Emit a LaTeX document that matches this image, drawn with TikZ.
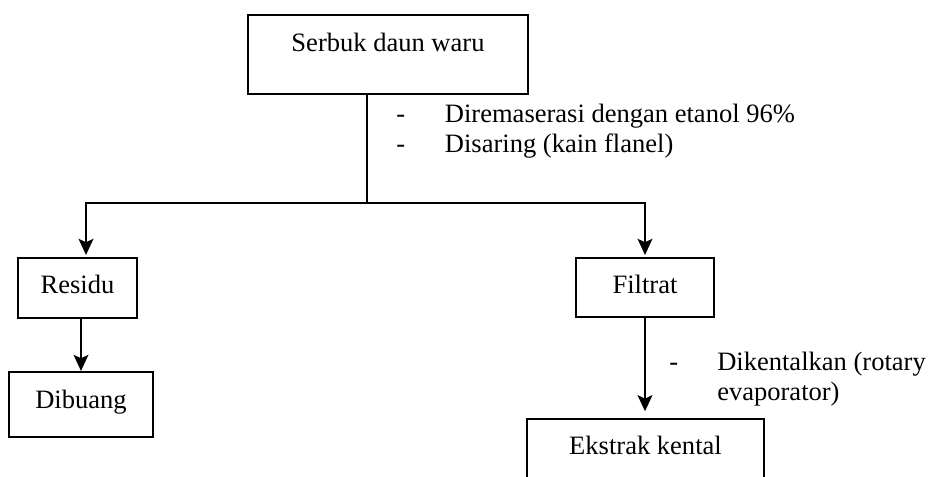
\documentclass[tikz,border=0pt]{standalone}
\usepackage{fontspec}
\setmainfont{Liberation Serif}
\usetikzlibrary{arrows.meta}
\begin{document}
\begin{tikzpicture}[x=0.75pt,y=-0.75pt,
  every node/.style={font=\fontsize{19.9pt}{22.5pt}\selectfont},
  box/.style={draw,line width=1.6pt,rectangle,inner sep=0pt,text height=13.5pt},
  conn/.style={line width=2pt},
  arr/.style={conn,-{Stealth[length=12pt,width=11pt,inset=2.5pt]}},
  note/.style={anchor=base west,inner sep=0pt,align=left}]
\useasboundingbox (0,0) rectangle (928,476);
\node[box,minimum width=210pt,minimum height=59.25pt,text depth=18.75pt] (top) at (388,54.5) {Serbuk daun waru};
\node[box,minimum width=89.25pt,minimum height=45pt,text depth=6pt] (residu) at (77.5,288) {Residu};
\node[box,minimum width=103.5pt,minimum height=44.25pt,text depth=5.25pt] (filtrat) at (645,287.5) {Filtrat};
\node[box,minimum width=108pt,minimum height=48.75pt,text depth=8.25pt] (dibuang) at (81,404.5) {Dibuang};
\node[box,minimum width=177.75pt,minimum height=59.25pt,text depth=20.25pt] (ekstrak) at (645.5,458.5) {Ekstrak kental};
\coordinate (split) at (367,203);
\coordinate (lt) at (86,203);
\draw[conn] (top.south -| split) -- (split);
\draw[arr,shorten >=1.5pt] (split) -- (lt) -- (lt |- residu.north);
\draw[arr,shorten >=1.5pt] (split) -| (filtrat.north);
\draw[arr,shorten >=0pt] (residu.south -| dibuang.north) -- (dibuang.north);
\draw[arr,shorten >=5pt] (filtrat.south) -- (filtrat.south |- ekstrak.north);
\node[note] (n1) at (396,152) {\makebox[36.5pt][l]{-}Diremaserasi dengan etanol 96\%\\\makebox[36.5pt][l]{-}Disaring (kain flanel)};
\node[note] (n2) at (669,400) {\makebox[36pt][l]{-}Dikentalkan (rotary\\\makebox[36pt][l]{}evaporator)};
\end{tikzpicture}
\end{document}
